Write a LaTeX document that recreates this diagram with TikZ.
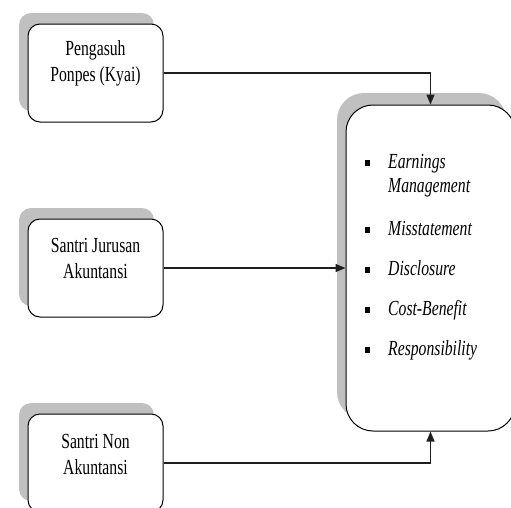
\documentclass[tikz,border=0pt]{standalone}
\usepackage{fontspec}
\setmainfont{Liberation Serif}[FakeStretch=0.73]
\usetikzlibrary{arrows.meta,shadows}
\definecolor{shadowgray}{RGB}{192,192,192}
\definecolor{linegray}{RGB}{30,30,30}
\begin{document}
\begin{tikzpicture}[x=1pt,y=-1pt,
  sbox/.style={draw=black, line width=1pt, fill=white, rounded corners=12pt,
    minimum width=135pt, minimum height=98pt, inner sep=0pt,
    general shadow={shadow xshift=-9pt, shadow yshift=11pt, fill=shadowgray, draw=none}},
  bigbox/.style={draw=black, line width=1pt, fill=white, rounded corners=27pt,
    minimum width=169pt, minimum height=326pt, inner sep=0pt,
    general shadow={shadow xshift=-9pt, shadow yshift=12pt, fill=shadowgray, draw=none}},
  txt/.style={align=center, font=\fontsize{21.5}{26}\selectfont, inner sep=0pt},
  item/.style={anchor=base west, font=\fontsize{21.5}{24}\selectfont\itshape, inner sep=0pt},
  bul/.style={fill=black, minimum width=5pt, minimum height=6pt, inner sep=0pt},
  arr/.style={draw=linegray, line width=1.3pt, -{Triangle[length=10pt,width=8pt]}}
]
\useasboundingbox (0,0) rectangle (511,507);
\clip (0,0) rectangle (511,507);
\node[sbox] (b1) at (95.5,73) {};
\node[sbox] (b2) at (95.5,268) {};
\node[sbox] (b3) at (95.5,463) {};
\node[bigbox] (big) at (430.5,268) {};

\node[txt] (t1) at ([yshift=-40pt]b1.north) {Pengasuh\\Ponpes (Kyai)};
\node[txt] (t2) at ([yshift=-40pt]b2.north) {Santri Jurusan\\Akuntansi};
\node[txt] (t3) at ([yshift=-41pt]b3.north) {Santri Non\\Akuntansi};

\draw[arr] (b1.east) -| (big.north);
\draw[arr] (b2.east) -- (big.west);
\draw[arr] (b3.east) -| (big.south);

\node[bul] (u1) at (367,163) {};
\node[item] (i1) at (388,168) {Earnings};
\node[item] (i1b) at (388,192) {Management};
\node[bul] (u2) at (367,230) {};
\node[item] (i2) at (388,235) {Misstatement};
\node[bul] (u3) at (367,270) {};
\node[item] (i3) at (388,275) {Disclosure};
\node[bul] (u4) at (367,310) {};
\node[item] (i4) at (388,315) {Cost-Benefit};
\node[bul] (u5) at (367,350) {};
\node[item] (i5) at (388,355) {Responsibility};
\end{tikzpicture}
\end{document}
